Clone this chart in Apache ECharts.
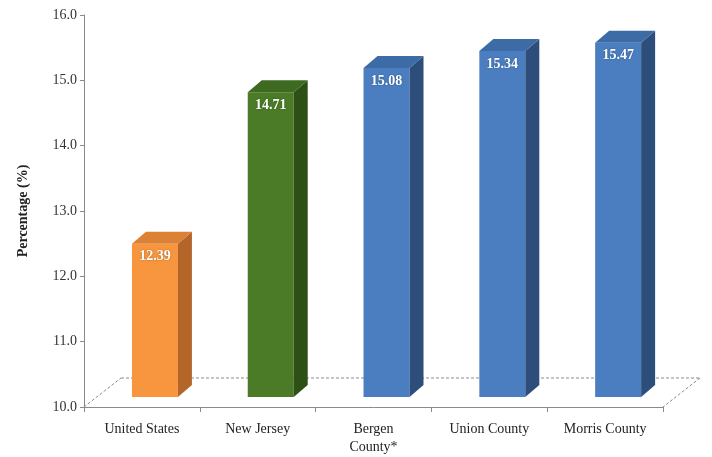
<!DOCTYPE html>
<html>
<head>
<meta charset="utf-8">
<script src="https://cdn.jsdelivr.net/npm/echarts@6/dist/echarts.min.js"></script>
<style>html,body{margin:0;padding:0;background:#fff;}#c{width:712px;height:457px;}</style>
</head>
<body>
<div id="c"></div>
<script>
const categories = ['United States', 'New Jersey', 'Bergen\nCounty*', 'Union County', 'Morris County'];
const values = [12.39, 14.71, 15.08, 15.34, 15.47];
const yTicks = { min: 10, max: 16, interval: 1 };

const frontColors = ['#F7963F', '#4B7B27', '#4A7EC0', '#4A7EC0', '#4A7EC0'];
const sideColors  = ['#B4652A', '#2D5016', '#2D4E7A', '#2D4E7A', '#2D4E7A'];
const topColors   = ['#DB8236', '#3D6A20', '#3C6BA6', '#3C6BA6', '#3C6BA6'];

const FONT = '"Liberation Serif", "DejaVu Serif", serif';
const chart = echarts.init(document.getElementById('c'), null, { renderer: 'canvas' });

function barItem(params, api) {
  const i = api.value(0), v = api.value(1);
  const base = api.coord([i, yTicks.min]);
  const top = api.coord([i, v]);
  const cw = api.size([1, 0])[0];
  const left = base[0] - cw / 2 + cw * 0.414;
  const w = cw * 0.397;
  const dx = 14, dy = 12;
  const yb = base[1] - 10;
  const yt = top[1] - 7;
  return {
    type: 'group',
    children: [
      { type: 'rect', shape: { x: left, y: yt, width: w, height: yb - yt }, style: { fill: frontColors[i] } },
      { type: 'polygon', shape: { points: [[left + w, yt], [left + w + dx, yt - dy], [left + w + dx, yb - dy], [left + w, yb]] }, style: { fill: sideColors[i] } },
      { type: 'polygon', shape: { points: [[left, yt], [left + dx, yt - dy], [left + w + dx, yt - dy], [left + w, yt]] }, style: { fill: topColors[i] } },
      { type: 'text', x: left + w / 2, y: yt + 13, style: { text: v.toFixed(2), fill: '#fff', font: 'bold 14px ' + FONT, align: 'center', verticalAlign: 'middle', textShadowColor: 'rgba(0,0,0,0.35)', textShadowBlur: 2 } }
    ]
  };
}

function floorItem(params, api) {
  const p = api.coord([0, yTicks.min]);
  const cw = api.size([1, 0])[0];
  const x0 = p[0] - cw / 2;
  const x1 = x0 + categories.length * cw;
  const y0 = p[1];
  const fdx = 37, fdy = 29;
  const st = { stroke: '#8a8a8a', lineWidth: 1, lineDash: [3, 2] };
  return {
    type: 'group',
    children: [
      { type: 'line', shape: { x1: x0, y1: y0, x2: x0 + fdx, y2: y0 - fdy }, style: st },
      { type: 'line', shape: { x1: x0 + fdx, y1: y0 - fdy, x2: x1 + fdx, y2: y0 - fdy }, style: st },
      { type: 'line', shape: { x1: x1 + fdx, y1: y0 - fdy, x2: x1, y2: y0 }, style: st }
    ]
  };
}

chart.setOption({
  animation: false,
  backgroundColor: '#fff',
  grid: { left: 84, right: 49, top: 15, bottom: 50 },
  xAxis: {
    type: 'category',
    data: categories,
    axisLine: { show: true, lineStyle: { color: '#8a8a8a', width: 1 } },
    axisTick: { show: true, length: 5, lineStyle: { color: '#8a8a8a' } },
    axisLabel: { interval: 0, margin: 13, color: '#222', fontFamily: FONT, fontSize: 14, lineHeight: 18 }
  },
  yAxis: {
    type: 'value',
    min: yTicks.min, max: yTicks.max, interval: yTicks.interval,
    name: 'Percentage (%)',
    nameLocation: 'middle',
    nameGap: 54,
    nameRotate: 90,
    nameTextStyle: { color: '#222', fontFamily: FONT, fontSize: 14, fontWeight: 'bold' },
    axisLine: { show: true, lineStyle: { color: '#8a8a8a', width: 1 } },
    axisTick: { show: true, length: 4, lineStyle: { color: '#8a8a8a' } },
    splitLine: { show: false },
    axisLabel: { margin: 7, color: '#333', fontFamily: FONT, fontSize: 14, formatter: v => v.toFixed(1) }
  },
  series: [
    { type: 'custom', silent: true, clip: false, z: 1, renderItem: floorItem, data: [[0, yTicks.min]] },
    { type: 'custom', silent: true, clip: false, z: 2, renderItem: barItem, data: values.map((v, i) => [i, v]) }
  ]
});
</script>
</body>
</html>
